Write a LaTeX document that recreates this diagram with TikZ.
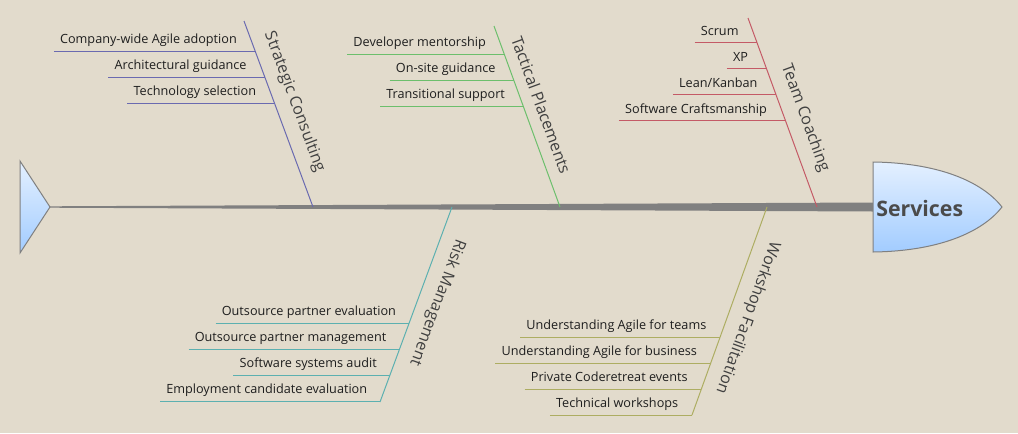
\documentclass[tikz,border=0pt]{standalone}
\usepackage{fontspec}
\setmainfont{Open Sans}
\usetikzlibrary{calc}
\definecolor{paper}{HTML}{E2DBCC}
\definecolor{spinegray}{HTML}{808080}
\definecolor{strat}{HTML}{6A6AB0}
\definecolor{tact}{HTML}{6CBF6C}
\definecolor{team}{HTML}{C45A66}
\definecolor{risk}{HTML}{5CB0B0}
\definecolor{work}{HTML}{ADAD62}
\definecolor{fishlight}{HTML}{E4F0FF}
\definecolor{fishdark}{HTML}{A2CCFF}
\definecolor{ink}{HTML}{1E1E1E}
\tikzset{
	item/.style={font=\fontsize{9.5}{11}\selectfont, text=ink, inner xsep=4.5pt, inner ysep=0pt, anchor=base east},
	bone/.style={line width=0.75pt},
	bonelabel/.style={font=\fontsize{12}{14}\selectfont, text=ink!85, inner sep=0pt, sloped},
	fishend/.style={draw=gray, line width=0.75pt, top color=fishlight, bottom color=fishdark},
}
\begin{document}
\begin{tikzpicture}[x=0.75pt,y=-0.75pt]
\fill[paper] (0,0) rectangle (1018,433);
\useasboundingbox (0,0) rectangle (1018,433);

% spine
\coordinate (tail) at (50,207);
\coordinate (neck) at (873,207);
\fill[spinegray] ($(tail)+(0,-0.7)$) -- ($(neck)+(0,-4.5)$) -- ($(neck)+(0,4.5)$) -- ($(tail)+(0,0.7)$) -- cycle;

% tail and head
\draw[fishend] (20,161) -- (tail) -- (20,253) -- cycle;
\draw[fishend] (873,162) .. controls (945,163) and (985,185) .. (1002,207) .. controls (985,229) and (945,251) .. (873,252) -- cycle;
\node[font=\bfseries\fontsize{16}{18}\selectfont, text=ink!80, anchor=west, inner sep=0pt] (head) at (876,208) {Services};

% Strategic Consulting
\coordinate (scT) at (244,21);
\coordinate (scB) at (313,207);
\draw[bone, strat] (scT) -- (scB) node[bonelabel, pos=0.47, above=8pt] (scL) {Strategic Consulting};
\coordinate (sc1) at (255.1,51);
\coordinate (sc2) at (264.8,77);
\coordinate (sc3) at (274.4,103);
\node[item] (sc1t) at ($(sc1)+(-12,-8)$) {Company-wide Agile adoption};
\node[item] (sc2t) at ($(sc2)+(-12,-8)$) {Architectural guidance};
\node[item] (sc3t) at ($(sc3)+(-12,-8)$) {Technology selection};
\draw[bone, strat] (sc1t.west |- sc1) -- (sc1);
\draw[bone, strat] (sc2t.west |- sc2) -- (sc2);
\draw[bone, strat] (sc3t.west |- sc3) -- (sc3);

% Tactical Placements
\coordinate (tpT) at (494,26);
\coordinate (tpB) at (560,207);
\draw[bone, tact] (tpT) -- (tpB) node[bonelabel, pos=0.47, above=8pt] (tpL) {Tactical Placements};
\coordinate (tp1) at (504.2,54);
\coordinate (tp2) at (513.7,80);
\coordinate (tp3) at (523.2,106);
\node[item] (tp1t) at ($(tp1)+(-12,-8)$) {Developer mentorship};
\node[item] (tp2t) at ($(tp2)+(-12,-8)$) {On-site guidance};
\node[item] (tp3t) at ($(tp3)+(-12,-8)$) {Transitional support};
\draw[bone, tact] (tp1t.west |- tp1) -- (tp1);
\draw[bone, tact] (tp2t.west |- tp2) -- (tp2);
\draw[bone, tact] (tp3t.west |- tp3) -- (tp3);

% Team Coaching
\coordinate (tcT) at (748,18);
\coordinate (tcB) at (817,207);
\draw[bone, team] (tcT) -- (tcB) node[bonelabel, pos=0.566, above=8pt] (tcL) {Team Coaching};
\coordinate (tc1) at (756.8,42);
\coordinate (tc2) at (766.3,68);
\coordinate (tc3) at (775.7,94);
\coordinate (tc4) at (785.2,120);
\node[item] (tc1t) at ($(tc1)+(-12,-7)$) {Scrum};
\node[item] (tc2t) at ($(tc2)+(-12,-7)$) {XP};
\node[item] (tc3t) at ($(tc3)+(-12,-7)$) {Lean/Kanban};
\node[item] (tc4t) at ($(tc4)+(-12,-7)$) {Software Craftsmanship};
\draw[bone, team] (tc1t.west |- tc1) -- (tc1);
\draw[bone, team] (tc2t.west |- tc2) -- (tc2);
\draw[bone, team] (tc3t.west |- tc3) -- (tc3);
\draw[bone, team] (tc4t.west |- tc4) -- (tc4);

% Risk Management
\coordinate (rmT) at (452,207);
\coordinate (rmB) at (380,402);
\draw[bone, risk] (rmT) -- (rmB) node[bonelabel, allow upside down, pos=0.456, above=8pt] (rmL) {Risk Management};
\coordinate (rm1) at (409.2,323);
\coordinate (rm2) at (399.6,349);
\coordinate (rm3) at (390.0,375);
\coordinate (rm4) at (380.4,401);
\node[item] (rm1t) at ($(rm1)+(-7,-8)$) {Outsource partner evaluation};
\node[item] (rm2t) at ($(rm2)+(-7,-8)$) {Outsource partner management};
\node[item] (rm3t) at ($(rm3)+(-7,-8)$) {Software systems audit};
\node[item] (rm4t) at ($(rm4)+(-7,-8)$) {Employment candidate evaluation};
\draw[bone, risk] (rm1t.west |- rm1) -- (rm1);
\draw[bone, risk] (rm2t.west |- rm2) -- (rm2);
\draw[bone, risk] (rm3t.west |- rm3) -- (rm3);
\draw[bone, risk] (rm4t.west |- rm4) -- (rm4);

% Workshop Facilitation
\coordinate (wfT) at (767,207);
\coordinate (wfB) at (692,415);
\draw[bone, work] (wfT) -- (wfB) node[bonelabel, allow upside down, pos=0.5, above=8pt] (wfL) {Workshop Facilitation};
\coordinate (wf1) at (720.1,337);
\coordinate (wf2) at (710.7,363);
\coordinate (wf3) at (701.4,389);
\coordinate (wf4) at (692.0,415);
\node[item] (wf1t) at ($(wf1)+(-7.5,-8)$) {Understanding Agile for teams};
\node[item] (wf2t) at ($(wf2)+(-7.5,-8)$) {Understanding Agile for business};
\node[item] (wf3t) at ($(wf3)+(-7.5,-8)$) {Private Coderetreat events};
\node[item] (wf4t) at ($(wf4)+(-7.5,-8)$) {Technical workshops};
\draw[bone, work] (wf1t.west |- wf1) -- (wf1);
\draw[bone, work] (wf2t.west |- wf2) -- (wf2);
\draw[bone, work] (wf3t.west |- wf3) -- (wf3);
\draw[bone, work] (wf4t.west |- wf4) -- (wf4);
\end{tikzpicture}
\end{document}
